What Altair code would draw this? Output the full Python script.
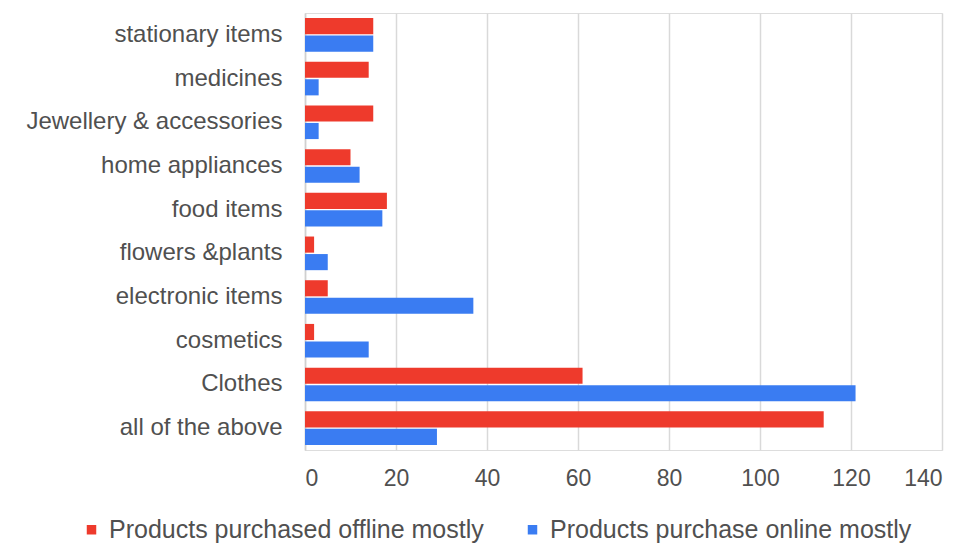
import altair as alt
import pandas as pd

categories = ["stationary items", "medicines", "Jewellery & accessories", "home appliances",
              "food items", "flowers &plants", "electronic items", "cosmetics", "Clothes",
              "all of the above"]
offline = [15, 14, 15, 10, 18, 2, 5, 2, 61, 114]
online = [15, 3, 3, 12, 17, 5, 37, 14, 121, 29]
series = ["Products purchased offline mostly", "Products purchase online mostly"]
colors = ["#EE3A2C", "#3A7CF2"]
x_ticks = [0, 20, 40, 60, 80, 100, 120, 140]

rows = []
for c, a, b in zip(categories, offline, online):
    rows.append({"category": c, "series": series[0], "value": a})
    rows.append({"category": c, "series": series[1], "value": b})
df = pd.DataFrame(rows)

font = "Liberation Sans"
text_color = "#505050"
chart = alt.Chart(df).mark_bar().encode(
    y=alt.Y("category:N", sort=categories, title=None,
            scale=alt.Scale(paddingInner=0.23, paddingOuter=0.115),
            axis=alt.Axis(labelFontSize=24, labelColor=text_color, labelFont=font,
                          ticks=False, labelPadding=23, domainColor="#d0d0d0",
                          domainWidth=1.5, labelLimit=400)),
    yOffset=alt.YOffset("series:N", sort=series, scale=alt.Scale(paddingInner=0.08)),
    x=alt.X("value:Q", title=None,
            scale=alt.Scale(domain=[0, 140], nice=False),
            axis=alt.Axis(values=x_ticks, labelFontSize=23, labelColor=text_color,
                          labelFont=font, ticks=False, domain=False, labelPadding=17,
                          grid=True, gridColor="#d9d9d9", gridWidth=1.5)),
    color=alt.Color("series:N", sort=series,
                    scale=alt.Scale(domain=series, range=colors),
                    legend=alt.Legend(orient="none", legendX=-226, legendY=504,
                                      direction="horizontal", columns=2, title=None,
                                      symbolType="square", symbolSize=90,
                                      labelFontSize=25, labelFont=font,
                                      labelColor=text_color, columnPadding=36,
                                      symbolOffset=0, labelOffset=5,
                                      labelLimit=600)),
).properties(width=637, height=437).configure_view(stroke=None).configure(
    padding={"left": 17, "top": 5, "right": 5, "bottom": 0}
)

chart.save("out.html", embed_options={"renderer": "svg", "actions": False})
